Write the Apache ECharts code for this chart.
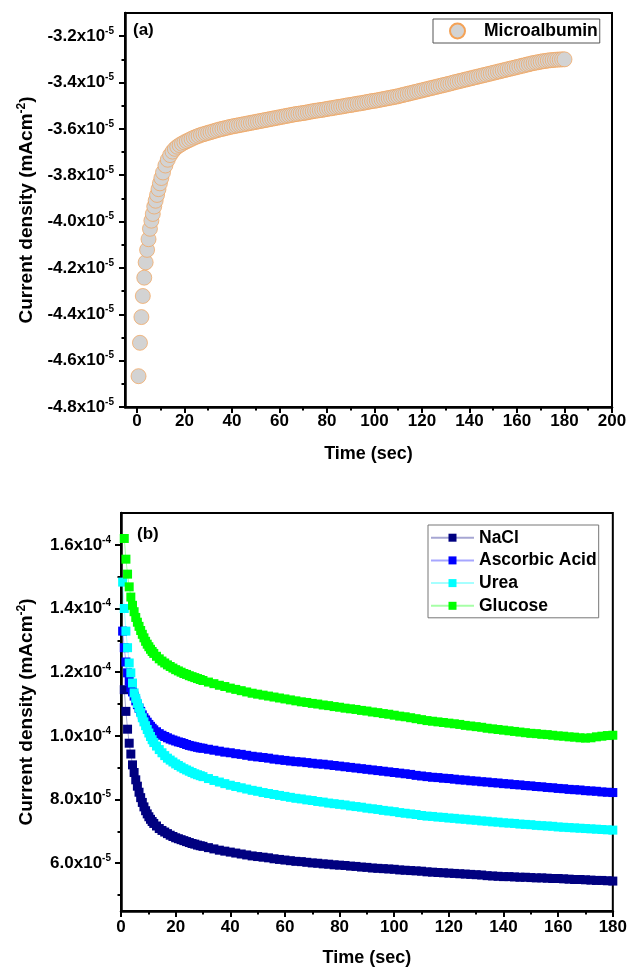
<!DOCTYPE html>
<html>
<head>
<meta charset="utf-8">
<script src="https://cdn.jsdelivr.net/npm/echarts@6/dist/echarts.min.js"></script>
<style>
html,body{margin:0;padding:0;background:#fff;}
#chart{width:630px;height:974px;}
</style>
</head>
<body>
<div id="chart"></div>
<script>
// ---------- Panel (a): Microalbumin (current density in units of 1e-5 mA cm^-2) ----------
const timeA = [0.7,1.3,1.9,2.5,3.1,3.7,4.3,4.9,5.5,6.1,6.7,7.3,7.9,
  8.5,9.1,9.7,10.3,11,12,13,14,15,16,
  17,18,19,20,21,22,23,24,25,26,27,28,29,30,31,32,33,34,35,36,37,38,39,40,
  41,42,43,44,45,46,47,48,49,50,51,52,53,54,55,56,57,58,59,60,
  61,62,63,64,65,66,67,68,69,70,71,72,73,74,75,76,77,78,79,80,
  81,82,83,84,85,86,87,88,89,90,91,92,93,94,95,96,97,98,99,100,
  101,102,103,104,105,106,107,108,109,110,111,112,113,114,115,116,117,118,119,120,
  121,122,123,124,125,126,127,128,129,130,131,132,133,134,135,136,137,138,139,140,
  141,142,143,144,145,146,147,148,149,150,151,152,153,154,155,156,157,158,159,160,
  161,162,163,164,165,166,167,168,169,170,171,172,173,174,175,176,177,178,179,180];
const microalbumin = [-4.667,-4.523,-4.412,-4.321,-4.242,-4.176,-4.122,-4.076,-4.031,-3.996,-3.967,-3.935,-3.910,
  -3.885,-3.860,-3.835,-3.812,-3.788,-3.758,-3.733,-3.713,-3.698,-3.686,
  -3.677,-3.670,-3.664,-3.658,-3.653,-3.648,-3.643,-3.638,-3.634,-3.630,-3.626,-3.623,-3.620,-3.617,-3.614,-3.611,-3.608,-3.605,-3.602,-3.600,-3.597,-3.595,-3.592,-3.590,
  -3.588,-3.586,-3.584,-3.582,-3.580,-3.578,-3.576,-3.574,-3.572,-3.570,-3.568,-3.566,-3.564,-3.562,-3.560,-3.558,-3.556,-3.554,-3.552,-3.550,
  -3.548,-3.546,-3.544,-3.542,-3.540,-3.538,-3.536,-3.535,-3.533,-3.532,-3.530,-3.528,-3.526,-3.524,-3.522,-3.521,-3.519,-3.518,-3.516,-3.514,
  -3.512,-3.511,-3.509,-3.507,-3.505,-3.504,-3.502,-3.500,-3.498,-3.497,-3.495,-3.493,-3.491,-3.490,-3.488,-3.486,-3.484,-3.482,-3.480,-3.479,
  -3.477,-3.475,-3.473,-3.471,-3.469,-3.467,-3.465,-3.463,-3.461,-3.459,-3.456,-3.454,-3.451,-3.449,-3.446,-3.444,-3.441,-3.439,-3.436,-3.434,
  -3.431,-3.429,-3.426,-3.424,-3.421,-3.419,-3.416,-3.414,-3.411,-3.409,-3.406,-3.404,-3.401,-3.398,-3.396,-3.393,-3.391,-3.388,-3.386,-3.383,
  -3.381,-3.378,-3.376,-3.373,-3.371,-3.368,-3.366,-3.363,-3.361,-3.358,-3.356,-3.353,-3.351,-3.348,-3.346,-3.343,-3.341,-3.338,-3.336,-3.333,
  -3.331,-3.328,-3.326,-3.323,-3.321,-3.318,-3.316,-3.314,-3.312,-3.310,-3.308,-3.307,-3.305,-3.304,-3.303,-3.302,-3.301,-3.301,-3.300,-3.300];
const xTicksA = [0,20,40,60,80,100,120,140,160,180,200];
const xMinorA = [10,30,50,70,90,110,130,150,170,190];
const yTicksA = [-4.8,-4.6,-4.4,-4.2,-4.0,-3.8,-3.6,-3.4,-3.2];
const yMinorA = [-4.7,-4.5,-4.3,-4.1,-3.9,-3.7,-3.5,-3.3];

// ---------- Panel (b): interferents (current density in units of 1e-5 mA cm^-2) ----------
const timeB = [0.6,1.2,1.8,2.4,3.0,3.6,4.2,4.8,5.4,6.0,6.6,7.2,7.8,8.4,9.0,9.6,10.2,10.8,11.4,12.0,
  13,14,15,16,17,18,19,20,21,22,23,24,25,26,27,28,29,30,
  32,34,36,38,40,42,44,46,48,50,52,54,56,58,60,
  62,64,66,68,70,72,74,76,78,80,82,84,86,88,90,92,94,96,98,100,
  102,104,106,108,110,112,114,116,118,120,122,124,126,128,130,132,134,136,138,140,
  142,144,146,148,150,152,154,156,158,160,162,164,166,168,170,172,174,176,178,180];
const nacl = [null,11.45,10.77,10.21,9.77,9.43,9.09,8.85,8.62,8.42,8.23,8.06,7.91,7.77,7.65,7.55,7.46,7.38,7.31,7.25,
  7.17,7.09,7.03,6.98,6.93,6.88,6.84,6.80,6.77,6.74,6.71,6.68,6.65,6.62,6.60,6.57,6.55,6.53,
  6.49,6.45,6.41,6.38,6.35,6.32,6.29,6.26,6.23,6.21,6.19,6.17,6.14,6.12,6.10,
  6.08,6.06,6.05,6.03,6.01,6.00,5.98,5.97,5.95,5.94,5.93,5.91,5.90,5.88,5.87,5.85,5.84,5.83,5.82,5.81,
  5.79,5.78,5.77,5.76,5.75,5.73,5.72,5.71,5.70,5.69,5.68,5.67,5.66,5.65,5.64,5.63,5.61,5.60,5.59,5.58,
  5.58,5.57,5.56,5.56,5.55,5.54,5.54,5.53,5.52,5.52,5.51,5.50,5.49,5.49,5.48,5.47,5.46,5.46,5.45,5.44];
const ascorbicAcid = [13.29,12.77,12.32,11.98,11.72,11.52,11.38,11.25,11.10,10.98,10.87,10.77,10.66,10.57,10.50,10.43,10.36,10.30,10.24,10.19,
  10.13,10.07,10.02,9.98,9.94,9.90,9.87,9.84,9.81,9.79,9.76,9.73,9.70,9.68,9.66,9.64,9.62,9.61,
  9.58,9.55,9.52,9.49,9.47,9.44,9.42,9.39,9.36,9.34,9.32,9.30,9.27,9.25,9.23,
  9.21,9.19,9.18,9.16,9.14,9.12,9.11,9.09,9.07,9.05,9.03,9.01,8.99,8.97,8.95,8.93,8.91,8.89,8.87,8.85,
  8.83,8.81,8.79,8.76,8.74,8.72,8.70,8.69,8.67,8.66,8.64,8.62,8.61,8.59,8.58,8.56,8.55,8.53,8.52,8.50,
  8.49,8.47,8.46,8.44,8.43,8.41,8.40,8.38,8.37,8.35,8.34,8.32,8.31,8.30,8.28,8.27,8.26,8.24,8.23,8.22];
const urea = [14.83,14.00,13.29,12.77,12.29,11.98,11.66,11.35,11.18,11.02,10.88,10.73,10.57,10.44,10.32,10.20,10.09,9.98,9.88,9.79,
  9.68,9.57,9.47,9.38,9.30,9.24,9.18,9.12,9.07,9.02,8.97,8.93,8.89,8.85,8.81,8.78,8.75,8.72,
  8.66,8.60,8.55,8.50,8.45,8.41,8.37,8.33,8.29,8.26,8.22,8.19,8.16,8.13,8.10,
  8.07,8.04,8.02,7.99,7.97,7.94,7.92,7.89,7.87,7.85,7.83,7.80,7.78,7.76,7.73,7.71,7.69,7.66,7.64,7.62,
  7.59,7.57,7.55,7.53,7.50,7.48,7.47,7.45,7.44,7.42,7.41,7.39,7.38,7.36,7.35,7.33,7.32,7.30,7.29,7.27,
  7.26,7.25,7.23,7.22,7.21,7.19,7.18,7.17,7.16,7.14,7.13,7.12,7.11,7.10,7.09,7.08,7.07,7.06,7.05,7.04];
const glucose = [null,16.20,15.55,15.08,14.68,14.36,14.10,13.90,13.72,13.57,13.44,13.31,13.19,13.08,12.97,12.88,12.80,12.72,12.65,12.59,
  12.50,12.42,12.35,12.29,12.23,12.18,12.13,12.08,12.04,12.00,11.96,11.93,11.89,11.86,11.83,11.80,11.77,11.74,
  11.69,11.64,11.59,11.55,11.50,11.46,11.42,11.38,11.34,11.31,11.28,11.25,11.22,11.19,11.16,
  11.13,11.10,11.07,11.05,11.02,11.00,10.97,10.95,10.92,10.90,10.87,10.85,10.83,10.80,10.78,10.75,10.73,10.70,10.68,10.65,
  10.62,10.60,10.57,10.54,10.51,10.48,10.46,10.44,10.42,10.40,10.38,10.36,10.33,10.31,10.29,10.27,10.24,10.22,10.20,10.18,
  10.16,10.14,10.12,10.10,10.08,10.07,10.05,10.04,10.02,10.00,9.99,9.97,9.96,9.94,9.93,9.94,9.97,9.99,10.01,10.02];
const xTicksB = [0,20,40,60,80,100,120,140,160,180];
const xMinorB = [10,30,50,70,90,110,130,150,170];
const yTicksB = [6,8,10,12,14,16];
const yMinorB = [5,7,9,11,13,15];

const namesB = ['NaCl','Ascorbic Acid','Urea','Glucose'];
const colorsB = ['#000080','#0000ff','#00ffff','#00ff00'];

// ---------- helpers ----------
const FONT = '"Liberation Sans", Arial, sans-serif';
const pairs = (t, v) => t.map((x, i) => [x, v[i]]).filter(p => p[1] != null);
const richLbl = {
  n: {fontFamily: FONT, fontSize: 17, fontWeight: 'bold', color: '#000', lineHeight: 20},
  s: {fontFamily: FONT, fontSize: 10, fontWeight: 'bold', color: '#000', verticalAlign: 'top', lineHeight: 10}
};
const richName = {
  n: {fontFamily: FONT, fontSize: 19, fontWeight: 'bold', color: '#000', lineHeight: 22},
  s: {fontFamily: FONT, fontSize: 12, fontWeight: 'bold', color: '#000', verticalAlign: 'top', lineHeight: 12}
};
function fmtA(v) { return '{n|' + v.toFixed(1) + 'x10}{s|-5}'; }
function fmtB(v) {
  if (v >= 10) return '{n|' + (v / 10).toFixed(1) + 'x10}{s|-4}';
  return '{n|' + v.toFixed(1) + 'x10}{s|-5}';
}
const AX = {color: '#000', width: 2.5};

function mainX(grid, min, max, ticks, gap, margin) {
  return {
    type: 'value', gridIndex: grid, min: min, max: max, position: 'bottom',
    axisLine: {show: true, onZero: false, lineStyle: AX},
    axisTick: {show: true, customValues: ticks, length: 6, lineStyle: {color: '#000', width: 2}},
    axisLabel: {customValues: ticks, margin: margin, fontFamily: FONT, fontSize: 17, fontWeight: 'bold', color: '#000'},
    splitLine: {show: false},
    name: 'Time (sec)', nameLocation: 'middle', nameGap: gap,
    nameTextStyle: {fontFamily: FONT, fontSize: 18, fontWeight: 'bold', color: '#000'}
  };
}
function minorX(grid, min, max, ticks) {
  return {
    type: 'value', gridIndex: grid, min: min, max: max, position: 'bottom',
    axisLine: {show: false, onZero: false},
    axisTick: {show: true, customValues: ticks, length: 3.5, lineStyle: {color: '#000', width: 2}},
    axisLabel: {show: false, customValues: ticks},
    splitLine: {show: false}
  };
}
function mainY(grid, min, max, ticks, fmt, gap, margin) {
  return {
    type: 'value', gridIndex: grid, min: min, max: max, position: 'left',
    axisLine: {show: true, onZero: false, lineStyle: AX},
    axisTick: {show: true, customValues: ticks, length: 6, lineStyle: {color: '#000', width: 2}},
    axisLabel: {customValues: ticks, margin: margin, formatter: fmt, rich: richLbl},
    splitLine: {show: false},
    name: '{n|Current density (mAcm}{s|-2}{n|)}', nameLocation: 'middle', nameRotate: 90, nameGap: gap,
    nameTextStyle: {rich: richName}
  };
}
function minorY(grid, min, max, ticks) {
  return {
    type: 'value', gridIndex: grid, min: min, max: max, position: 'left', offset: 0,
    axisLine: {show: false, onZero: false},
    axisTick: {show: true, customValues: ticks, length: 3.5, lineStyle: {color: '#000', width: 2}},
    axisLabel: {show: false, customValues: ticks},
    splitLine: {show: false}
  };
}

const chart = echarts.init(document.getElementById('chart'), null, {renderer: 'canvas'});

const seriesB = namesB.map((nm, i) => ({
  name: nm, type: 'line', xAxisIndex: 2, yAxisIndex: 2,
  data: pairs(timeB, [nacl, ascorbicAcid, urea, glucose][i]),
  symbol: 'rect', symbolSize: 9, showSymbol: true,
  itemStyle: {color: colorsB[i], borderWidth: 0},
  lineStyle: {color: colorsB[i], width: 1, opacity: 0.35},
  emphasis: {disabled: true}
}));

chart.setOption({
  animation: false,
  backgroundColor: '#fff',
  grid: [
    {left: 125, top: 13, width: 487, height: 394, show: true, borderColor: '#000', borderWidth: 2, backgroundColor: 'transparent'},
    {left: 121, top: 513, width: 492, height: 398, show: true, borderColor: '#000', borderWidth: 2, backgroundColor: 'transparent'}
  ],
  xAxis: [
    mainX(0, -5, 200, xTicksA, 38, 6),
    minorX(0, -5, 200, xMinorA),
    mainX(1, 0, 180, xTicksB, 38, 8),
    minorX(1, 0, 180, xMinorB)
  ],
  yAxis: [
    mainY(0, -4.8, -3.1, yTicksA, fmtA, 80, 11),
    minorY(0, -4.8, -3.1, yMinorA),
    mainY(1, 4.5, 17, yTicksB, fmtB, 83, 10),
    minorY(1, 4.5, 17, yMinorB)
  ],
  legend: [
    {
      data: ['Microalbumin'], left: 433, top: 19, orient: 'horizontal', icon: 'circle',
      itemWidth: 15, itemHeight: 15, padding: [3, 2, 3, 16],
      borderColor: '#555', borderWidth: 1, selectedMode: false,
      textStyle: {fontFamily: FONT, fontSize: 17.5, fontWeight: 'bold', color: '#000', padding: [0, 0, 0, 14]}
    },
    {
      data: namesB, left: 428, top: 525, orient: 'vertical',
      itemWidth: 43, itemHeight: 10, itemGap: 2.7, padding: [2.7, 2, 2, 2],
      borderColor: '#777', borderWidth: 1, selectedMode: false,
      textStyle: {fontFamily: FONT, fontSize: 17.5, fontWeight: 'bold', color: '#000', lineHeight: 20}
    }
  ],
  graphic: [
    {type: 'text', left: 133, top: 22, style: {text: '(a)', font: 'bold 17px ' + FONT, fill: '#000'}},
    {type: 'text', left: 137, top: 526, style: {text: '(b)', font: 'bold 17px ' + FONT, fill: '#000'}}
  ],
  series: [
    {
      name: 'Microalbumin', type: 'scatter', xAxisIndex: 0, yAxisIndex: 0,
      data: pairs(timeA, microalbumin), symbol: 'circle', symbolSize: 15,
      itemStyle: {color: '#d3d3d3', borderColor: '#f4a256', borderWidth: 0.7, opacity: 1},
      emphasis: {disabled: true}
    }
  ].concat(seriesB)
});
</script>
</body>
</html>
